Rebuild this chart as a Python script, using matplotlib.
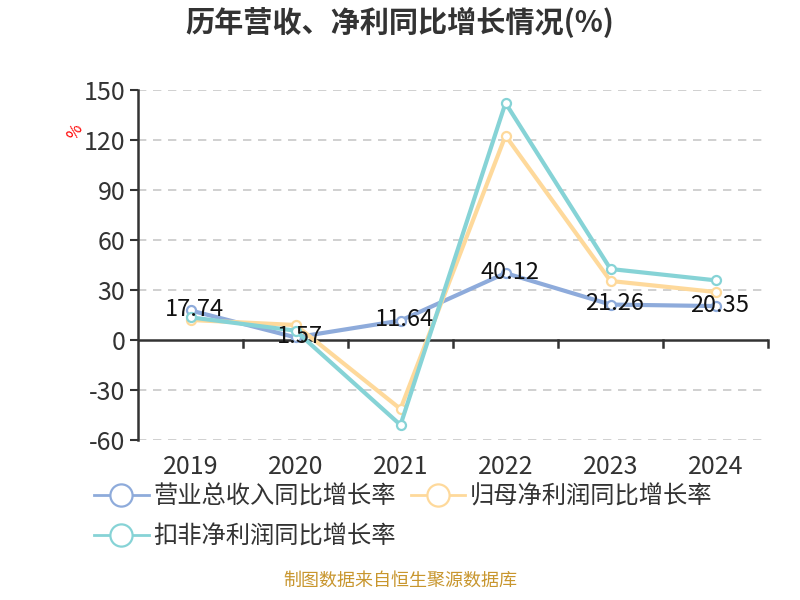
import matplotlib
matplotlib.use("Agg")
import matplotlib.pyplot as plt
from matplotlib.lines import Line2D

plt.rcParams['font.family'] = ['Noto Sans CJK SC', 'DejaVu Sans']

# data
years = ['2019', '2020', '2021', '2022', '2023', '2024']
revenue_growth = [17.74, 1.57, 11.64, 40.12, 21.26, 20.35]
net_profit_growth = [12.0, 9.0, -41.4, 122.6, 35.4, 28.8]
deducted_profit_growth = [13.6, 5.6, -51.0, 142.2, 42.6, 35.8]
series_names = ['营业总收入同比增长率', '归母净利润同比增长率', '扣非净利润同比增长率']
yticks = [-60, -30, 0, 30, 60, 90, 120, 150]

colors = ['#8eabdb', '#fed99b', '#86d3d6']

fig = plt.figure(figsize=(8, 6), dpi=100)
ax = fig.add_axes([0.1725, 0.2667, 0.7875, 0.5833])

x = list(range(len(years)))
all_series = [revenue_growth, net_profit_growth, deducted_profit_growth]
for i, vals in enumerate(all_series):
    ax.plot(x, vals, color=colors[i], lw=3, marker='o', markersize=6.5,
            markerfacecolor='white', markeredgecolor=colors[i], markeredgewidth=1.6,
            zorder=3 + i, clip_on=False)

for xi, v in zip(x, revenue_growth):
    ax.text(xi + 0.04, v + 0.5, f'{v:.2f}', ha='center', va='center', fontsize=17,
            color='#111111', zorder=10)

ax.set_xlim(-0.5, len(years) - 0.5)
ax.set_ylim(-60, 150)
ax.set_yticks(yticks)
ax.set_yticklabels([str(t) for t in yticks], fontsize=18, color='#333333')
ax.set_xticks(x)
ax.set_xticklabels(years, fontsize=18, color='#333333')
ax.tick_params(axis='x', length=0, pad=10)
ax.tick_params(axis='y', length=6, width=1.5, color='#333333', pad=3)

for t in yticks:
    if t != 0:
        ax.axhline(t, color='#c8c8c8', lw=1.2, ls=(0, (5, 4)), zorder=1)

# zero axis line with category boundary ticks
ax.axhline(0, color='#333333', lw=1.8, zorder=2)
for b in [i + 0.5 for i in x]:
    ax.plot([b, b], [0, -4], color='#333333', lw=1.8, clip_on=False, zorder=2)

for s in ['top', 'right', 'bottom']:
    ax.spines[s].set_visible(False)
ax.spines['left'].set_color('#333333')
ax.spines['left'].set_linewidth(1.8)

fig.text(0.094, 0.78, '%', color='red', fontsize=12, rotation=60, ha='center', va='center')

fig.text(0.5, 0.962, '历年营收、净利同比增长情况(%)', ha='center', va='center',
         fontsize=21, fontweight='bold', color='#333333')

handles = [Line2D([0], [0], color=c, lw=2, marker='o', markersize=16,
                  markerfacecolor='white', markeredgecolor=c, markeredgewidth=1.6)
           for c in colors]
# column-major fill: reorder so rows read 1,2 / 3
order = [0, 2, 1]
fig.legend([handles[i] for i in order], [series_names[i] for i in order],
           loc='upper left', bbox_to_anchor=(0.09, 1 - 462 / 600),
           ncol=2, frameon=False, fontsize=17.5, handlelength=2.25, columnspacing=0.6,
           labelspacing=0.55, handletextpad=0.2, labelcolor='#333333',
           bbox_transform=fig.transFigure)

fig.text(0.5, 0.018, '制图数据来自恒生聚源数据库', ha='center', va='bottom',
         fontsize=13, color='#c8962e')

fig.savefig('out.png', dpi=100)
